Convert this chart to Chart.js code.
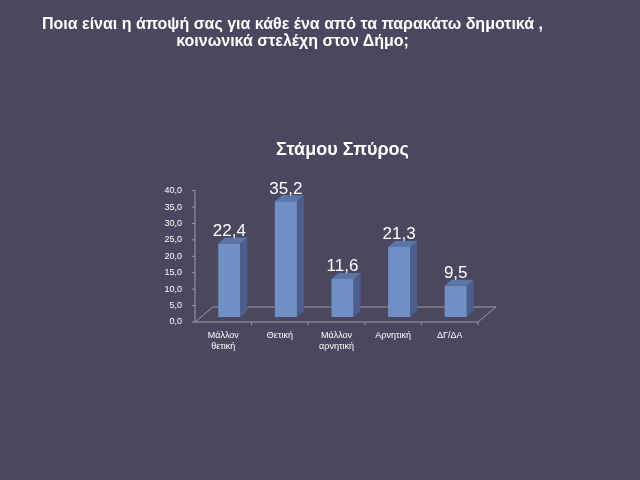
<!DOCTYPE html>
<html lang="el">
<head>
<meta charset="UTF-8">
<title>Στάμου Σπύρος</title>
<script src="https://cdn.jsdelivr.net/npm/chart.js"></script>
<style>
  html, body { margin: 0; padding: 0; background: #4a475f; }
  .slide { position: relative; width: 640px; height: 480px; overflow: hidden; }
  .heading {
    position: absolute; left: 0; top: 15px; width: 585px; color: #fff;
    font: bold 16px "Liberation Sans", Arial, sans-serif;
    line-height: 17px; text-align: center; white-space: nowrap;
  }
  #stamou { position: absolute; left: 0; top: 0; }
</style>
</head>
<body>
<div class="slide">
  <canvas id="stamou" width="640" height="480"></canvas>
  <div class="heading">Ποια είναι η άποψή σας για κάθε ένα από τα παρακάτω δημοτικά ,<br>κοινωνικά στελέχη στον Δήμο;</div>
</div>

<script>
  // data
  const categories = [['Μάλλον', 'θετική'], 'Θετική', ['Μάλλον', 'αρνητική'], 'Αρνητική', 'ΔΓ/ΔΑ'];
  const values = [22.4, 35.2, 11.6, 21.3, 9.5];
  const yTickValues = [0, 5, 10, 15, 20, 25, 30, 35, 40];
  const chartTitle = 'Στάμου Σπύρος';

  const fmt = v => v.toFixed(1).replace('.', ',');

  // fake 3D: bar depth and floor planes
  const barDX = 7, barDY = 6;
  const frontDX = -6, frontDY = 5;
  const backDX = 12, backDY = -10;

  const depth3d = {
    id: 'depth3d',
    beforeDatasetsDraw(chart) {
      const { ctx, chartArea: a } = chart;
      const yScale = chart.scales.y;
      const fl = a.left + frontDX, fr = a.right + frontDX, fy = a.bottom + frontDY;
      const bl = a.left + backDX, br = a.right + backDX, by = a.bottom + backDY;
      ctx.save();
      ctx.strokeStyle = '#9d9cab';
      ctx.lineWidth = 1;
      // floor
      ctx.beginPath();
      ctx.moveTo(fl, fy); ctx.lineTo(fr, fy); ctx.lineTo(br, by); ctx.lineTo(bl, by); ctx.closePath();
      ctx.stroke();
      // value axis on the front plane
      ctx.beginPath();
      ctx.moveTo(fl, yScale.getPixelForValue(yTickValues[yTickValues.length - 1]) + frontDY);
      ctx.lineTo(fl, fy);
      yScale.ticks.forEach(t => {
        const py = yScale.getPixelForValue(t.value) + frontDY;
        ctx.moveTo(fl - 3, py); ctx.lineTo(fl, py);
      });
      // category boundaries
      const step = (a.right - a.left) / categories.length;
      for (let i = 1; i <= categories.length; i++) {
        const px = fl + step * i;
        ctx.moveTo(px, fy); ctx.lineTo(px, fy + 3);
      }
      ctx.stroke();
      ctx.restore();
    },
    afterDatasetsDraw(chart) {
      const { ctx } = chart;
      ctx.save();
      chart.getDatasetMeta(0).data.forEach((bar, i) => {
        const { x, y, base, width } = bar.getProps(['x', 'y', 'base', 'width'], true);
        const l = x - width / 2, r = x + width / 2;
        ctx.fillStyle = '#4c5f8c';
        ctx.beginPath();
        ctx.moveTo(r, y); ctx.lineTo(r + barDX, y - barDY); ctx.lineTo(r + barDX, base - barDY); ctx.lineTo(r, base);
        ctx.closePath(); ctx.fill();
        ctx.fillStyle = '#5b76a8';
        ctx.beginPath();
        ctx.moveTo(l, y); ctx.lineTo(l + barDX, y - barDY); ctx.lineTo(r + barDX, y - barDY); ctx.lineTo(r, y);
        ctx.closePath(); ctx.fill();
        // value label
        ctx.fillStyle = '#ffffff';
        ctx.font = '17px "Liberation Sans", Arial, sans-serif';
        ctx.textAlign = 'center';
        ctx.textBaseline = 'middle';
        ctx.fillText(fmt(values[i]), x, y - 12.5);
      });
      ctx.restore();
    }
  };

  Chart.defaults.font.family = '"Liberation Sans", Arial, sans-serif';

  new Chart(document.getElementById('stamou'), {
    type: 'bar',
    data: {
      labels: categories,
      datasets: [{
        data: values,
        backgroundColor: '#7191c6',
        borderWidth: 0,
        categoryPercentage: 1,
        barPercentage: 0.39
      }]
    },
    options: {
      responsive: false,
      animation: false,
      layout: { padding: { left: 155, right: 156, top: 0, bottom: 123 } },
      plugins: {
        legend: { display: false },
        tooltip: { enabled: false },
        title: {
          display: true,
          fullSize: false,
          text: chartTitle,
          color: '#ffffff',
          font: { size: 18, weight: 'bold' },
          padding: { top: 139, bottom: 25 }
        }
      },
      scales: {
        x: {
          grid: { display: false },
          border: { display: false },
          ticks: { color: '#ffffff', font: { size: 9 }, padding: 5, labelOffset: frontDX, maxRotation: 0 },
          afterFit(s) { s.height = 40; }
        },
        y: {
          min: yTickValues[0],
          max: yTickValues[yTickValues.length - 1],
          grid: { display: false },
          border: { display: false },
          afterBuildTicks(s) { s.ticks = yTickValues.map(v => ({ value: v })); },
          ticks: {
            color: '#ffffff', font: { size: 9 }, padding: 11, labelOffset: frontDY,
            callback: v => fmt(v)
          },
          afterFit(s) { s.width = 46; }
        }
      }
    },
    plugins: [depth3d]
  });
</script>
</body>
</html>
